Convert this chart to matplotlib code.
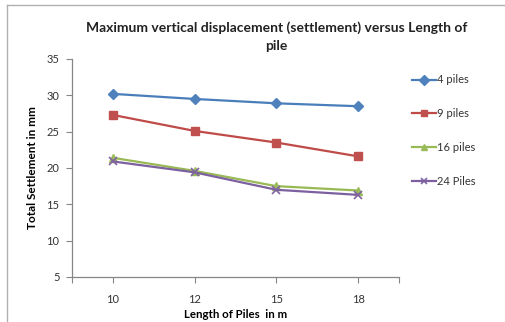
import matplotlib.pyplot as plt
from matplotlib.lines import Line2D

plt.rcParams['font.family'] = ['Lato', 'DejaVu Sans']

lengths = ['10', '12', '15', '18']
piles_4 = [30.2, 29.5, 28.9, 28.5]
piles_9 = [27.3, 25.1, 23.5, 21.6]
piles_16 = [21.4, 19.6, 17.5, 16.9]
piles_24 = [20.9, 19.4, 17.0, 16.3]
series_names = ['4 piles', '9 piles', '16 piles', '24 Piles']

fig = plt.figure(figsize=(5.05, 3.22), dpi=100)
ax = fig.add_axes([0.1426, 0.1398, 0.6475, 0.677])

x = range(len(lengths))
styles = [
    dict(color='#4A7EBB', marker='D', ms=5, mfc='#4F81BD', mec='#4F81BD'),
    dict(color='#BE4B48', marker='s', ms=6.2, mfc='#C0504D', mec='#C0504D'),
    dict(color='#98B954', marker='^', ms=6, mfc='#9BBB59', mec='#9BBB59'),
    dict(color='#7D60A0', marker='x', ms=6, mfc='#8064A2', mec='#8064A2', mew=1.2),
]
handles = []
for vals, name, st in zip([piles_4, piles_9, piles_16, piles_24], series_names, styles):
    h, = ax.plot(x, vals, lw=1.6, label=name, **st)
    handles.append(h)

ax.set_xlim(-0.5, 3.5)
ax.set_ylim(5, 35)
ax.set_yticks(range(5, 36, 5))
ax.set_xticks(list(x))
ax.set_xticklabels(lengths)
ax.set_xticks([-0.5, 3.5], minor=True)
ax.tick_params(axis='both', which='both', direction='out', length=4, width=0.8,
               color='#868686', labelsize=8, labelcolor='#333333')
ax.tick_params(axis='x', pad=8)
ax.tick_params(axis='y', pad=5)
for side in ['top', 'right']:
    ax.spines[side].set_visible(False)
for side in ['left', 'bottom']:
    ax.spines[side].set_color('#868686')
    ax.spines[side].set_linewidth(0.9)

ax.set_xlabel('Length of Piles  in m', fontsize=8.3, fontweight='bold', labelpad=3)
ax.set_ylabel('Total Settlement in mm', fontsize=8.5, fontweight='bold', labelpad=6)
fig.text(0.547, 0.915, 'Maximum vertical displacement (settlement) versus Length of',
         ha='center', va='center', fontsize=10, fontweight='bold', color='#222222')
fig.text(0.547, 0.857, 'pile', ha='center', va='center', fontsize=10,
         fontweight='bold', color='#222222')

leg = fig.legend(handles=handles, loc='upper left', bbox_to_anchor=(0.797, 0.8),
                 frameon=False, fontsize=8, labelspacing=2.05, handlelength=2.1,
                 handletextpad=0.15, labelcolor='#333333')
for lh in leg.legend_handles:
    lh.set_markersize(5)

# outer chart border
fig.add_artist(Line2D([0.014, 0.014], [0, 0.984], color='#b0b0b0', lw=1.0))
fig.add_artist(Line2D([0.014, 1.0], [0.984, 0.984], color='#b0b0b0', lw=1.0))

fig.savefig('out.png', dpi=100)
